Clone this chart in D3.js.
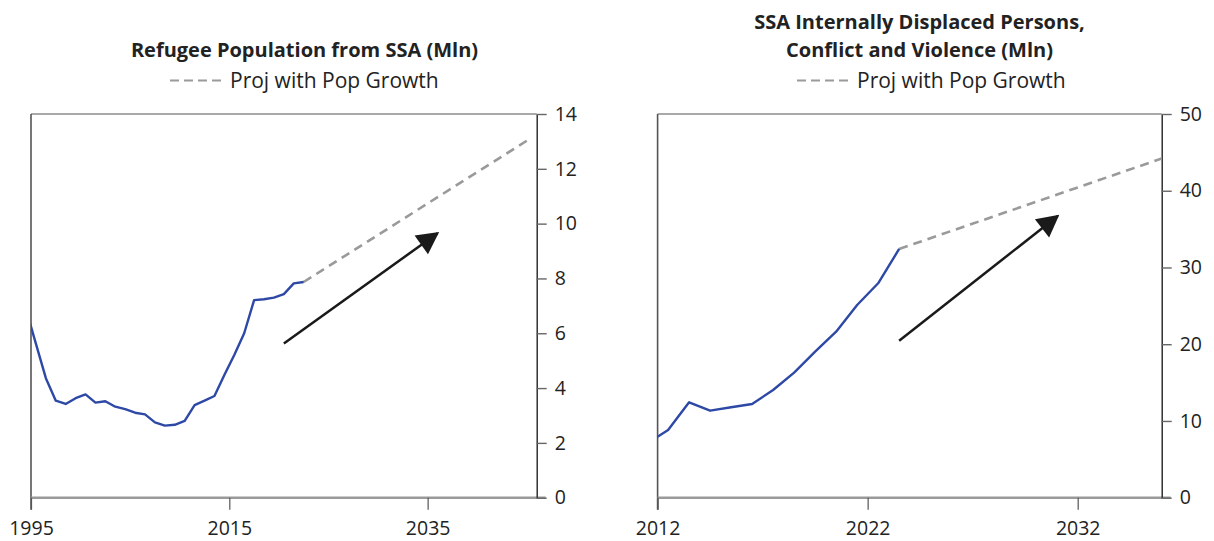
<!DOCTYPE html>
<html>
<head>
<meta charset="utf-8">
<script src="https://cdn.jsdelivr.net/npm/d3@7.9.0/dist/d3.min.js"></script>
<style>
  body { margin: 0; background: #fff; }
  svg text { font-family: "Open Sans", Lato, sans-serif; fill: #222; }
</style>
</head>
<body>
<svg id="chart" width="1214" height="541"></svg>
<script>
// ─── Data ────────────────────────────────────────────────────────────────────
// Refugee population from SSA (Mln), annual
const refugeeYears = [1994, 1995, 1996, 1997, 1998, 1999, 2000, 2001, 2002, 2003,
  2004, 2005, 2006, 2007, 2008, 2009, 2010, 2011, 2012, 2013, 2014, 2015, 2016,
  2017, 2018, 2019, 2020, 2021, 2022];
const refugeeValues = [6.87, 5.61, 4.36, 3.54, 3.42, 3.63, 3.77, 3.47, 3.52, 3.32,
  3.23, 3.10, 3.04, 2.75, 2.63, 2.66, 2.80, 3.38, 3.54, 3.71, 4.48, 5.21, 6.00,
  7.21, 7.24, 7.30, 7.43, 7.82, 7.87];
const refugeeProjYears = [2022, 2045];
const refugeeProjValues = [7.87, 13.14];
const refugeeYTicks = [0, 2, 4, 6, 8, 10, 12, 14];
const refugeeXTicks = [1995, 2015, 2035];
const refugeeArrow = [[2020.5, 5.63], [2036.0, 9.65]];

// SSA internally displaced persons, conflict and violence (Mln)
const idpYears = [2011, 2012, 2013, 2014, 2015, 2016, 2017, 2018, 2019, 2020,
  2021, 2022, 2023];
const idpValues = [7.08, 8.82, 12.43, 11.34, 11.78, 12.21, 14.03, 16.29, 19.03,
  21.63, 25.11, 27.94, 32.41];
const idpProjYears = [2023, 2036];
const idpProjValues = [32.41, 44.67];
const idpYTicks = [0, 10, 20, 30, 40, 50];
const idpXTicks = [2012, 2022, 2032];
const idpArrow = [[2023.5, 20.46], [2031.05, 36.71]];

const legendLabel = 'Proj with Pop Growth';

// ─── Layout ──────────────────────────────────────────────────────────────────
const plotTop = 114, plotBottom = 497.7;
const halfYear = 0.5; // annual points sit mid-year between ticks
const labelFont = '"Open Sans", Lato, sans-serif';

const panels = [
  {
    id: 'refugee',
    title: ['Refugee Population from SSA (Mln)'],
    years: refugeeYears, values: refugeeValues,
    projYears: refugeeProjYears, projValues: refugeeProjValues,
    xDomain: [1995, 2046], yMax: 14,
    xTicks: refugeeXTicks, yTicks: refugeeYTicks,
    arrow: refugeeArrow,
    left: 31, right: 536.7,
    titleX: 304.5, titleY: [57], legendY: 80.5, legendDashX: 170
  },
  {
    id: 'idp',
    title: ['SSA Internally Displaced Persons,', 'Conflict and Violence (Mln)'],
    years: idpYears, values: idpValues,
    projYears: idpProjYears, projValues: idpProjValues,
    xDomain: [2012, 2036], yMax: 50,
    xTicks: idpXTicks, yTicks: idpYTicks,
    arrow: idpArrow,
    left: 657.6, right: 1161.7,
    titleX: 919.5, titleY: [29, 57], legendY: 80.5, legendDashX: 797
  }
];

const svg = d3.select('#chart');
const defs = svg.append('defs');

defs.append('marker')
  .attr('id', 'arrowhead')
  .attr('markerUnits', 'userSpaceOnUse')
  .attr('markerWidth', 24).attr('markerHeight', 24)
  .attr('viewBox', '0 -12 22 24')
  .attr('refX', 20).attr('refY', 0)
  .attr('orient', 'auto')
  .append('path')
  .attr('d', 'M0,-11.5L22,0L0,11.5Z')
  .attr('fill', '#1a1a1a');

panels.forEach(p => {
  const x = d3.scaleLinear().domain(p.xDomain).range([p.left, p.right]);
  const y = d3.scaleLinear().domain([0, p.yMax]).range([plotBottom, plotTop]);
  const g = svg.append('g').attr('class', p.id);

  defs.append('clipPath').attr('id', `clip-${p.id}`)
    .append('rect')
    .attr('x', p.left).attr('y', plotTop)
    .attr('width', p.right - p.left).attr('height', plotBottom - plotTop);

  // Title + legend
  p.title.forEach((t, i) => {
    g.append('text')
      .attr('x', p.titleX).attr('y', p.titleY[i])
      .attr('text-anchor', 'middle')
      .style('font-size', '20px').style('font-weight', 700)
      .text(t);
  });
  g.append('line')
    .attr('x1', p.legendDashX).attr('x2', p.legendDashX + 53)
    .attr('y1', p.legendY).attr('y2', p.legendY)
    .attr('stroke', '#9a9a9a').attr('stroke-width', 2)
    .attr('stroke-dasharray', '9,5');
  g.append('text')
    .attr('x', p.legendDashX + 60).attr('y', p.legendY + 7.5)
    .style('font-size', '21px').style('font-weight', 400)
    .text(legendLabel);

  // Frame: top border and left border
  g.append('line')
    .attr('x1', p.left).attr('x2', p.right)
    .attr('y1', plotTop).attr('y2', plotTop)
    .attr('stroke', '#8c8c8c').attr('stroke-width', 1.6);
  g.append('line')
    .attr('x1', p.left).attr('x2', p.left)
    .attr('y1', plotTop).attr('y2', plotBottom + 12)
    .attr('stroke', '#555').attr('stroke-width', 1.6);

  // Bottom axis
  const xAxis = g.append('g')
    .attr('transform', `translate(0,${plotBottom})`)
    .call(d3.axisBottom(x).tickValues(p.xTicks).tickFormat(d3.format('d'))
      .tickSize(12).tickSizeOuter(0).tickPadding(11));
  xAxis.select('.domain').attr('stroke', '#9a9a9a').attr('stroke-width', 2.4)
    .attr('d', `M${p.left},0H${p.right + 9}`);
  xAxis.selectAll('.tick line').attr('stroke', '#555').attr('stroke-width', 1.2);
  xAxis.selectAll('.tick text')
    .style('font-size', '19.5px').style('font-weight', 400)
    .style('font-family', labelFont).attr('fill', '#222');

  // Right axis
  const yAxis = g.append('g')
    .attr('transform', `translate(${p.right},0)`)
    .call(d3.axisRight(y).tickValues(p.yTicks).tickSize(10).tickSizeOuter(0)
      .tickPadding(8));
  yAxis.select('.domain').attr('stroke', '#222').attr('stroke-width', 1.4);
  yAxis.selectAll('.tick line').attr('stroke', '#666').attr('stroke-width', 1.4);
  yAxis.selectAll('.tick text')
    .style('font-size', '19.5px').style('font-weight', 400)
    .style('font-family', labelFont).attr('fill', '#222');

  // Series
  const line = d3.line()
    .x(d => x(d[0] + halfYear))
    .y(d => y(d[1]));
  const plot = g.append('g').attr('clip-path', `url(#clip-${p.id})`);

  plot.append('path')
    .datum(d3.zip(p.projYears, p.projValues))
    .attr('d', line)
    .attr('fill', 'none')
    .attr('stroke', '#9a9a9a').attr('stroke-width', 2.6)
    .attr('stroke-dasharray', '9,6');

  plot.append('path')
    .datum(d3.zip(p.years, p.values))
    .attr('d', line)
    .attr('fill', 'none')
    .attr('stroke', '#2e48a6').attr('stroke-width', 2.4)
    .attr('stroke-linejoin', 'round');

  // Trend arrow
  g.append('line')
    .attr('x1', x(p.arrow[0][0])).attr('y1', y(p.arrow[0][1]))
    .attr('x2', x(p.arrow[1][0])).attr('y2', y(p.arrow[1][1]))
    .attr('stroke', '#1a1a1a').attr('stroke-width', 2.5)
    .attr('marker-end', 'url(#arrowhead)');
});
</script>
</body>
</html>
